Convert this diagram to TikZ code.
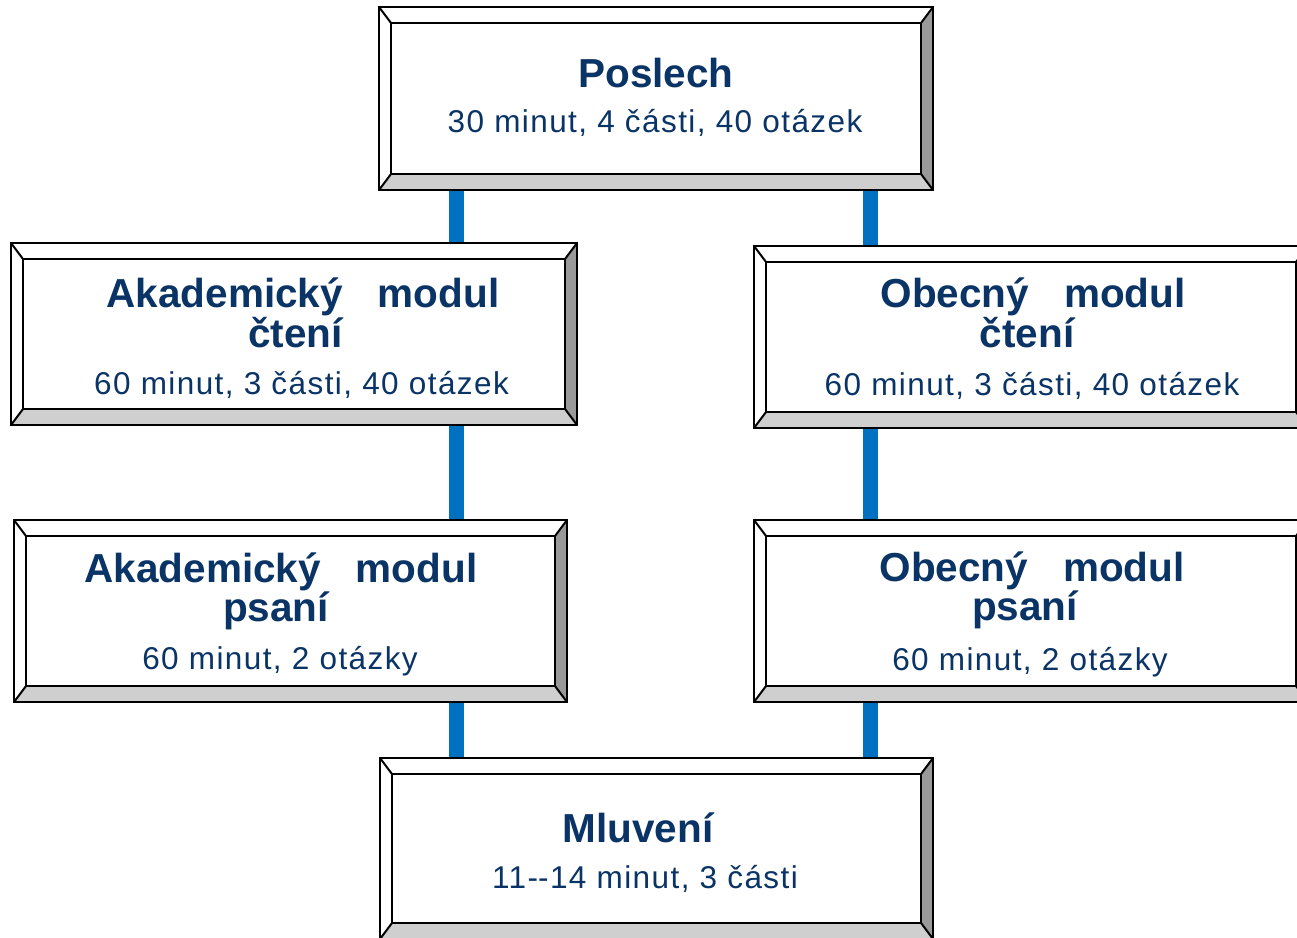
\documentclass[tikz,border=0pt]{standalone}
\usepackage{fontspec}
\setmainfont{Liberation Sans}
\newfontfamily\subf{Liberation Sans}[LetterSpace=4.5]
\definecolor{navy}{HTML}{0A3366}
\definecolor{linkblue}{HTML}{0070C0}
\definecolor{bevR}{HTML}{999999}
\definecolor{bevB}{HTML}{CFCFCF}
\tikzset{
  ttl/.style={anchor=base, inner sep=0pt, text=navy, font=\fontsize{40.5}{48}\selectfont\bfseries},
  subt/.style={anchor=base, inner sep=0pt, text=navy, font=\subf\fontsize{31.5}{36}\selectfont},
  conn/.style={line width=15pt, draw=linkblue, shorten <=1pt, shorten >=1pt},
  outline/.style={draw=black, line width=2pt, line join=miter}
}
\newcommand\bevbox[5]{%
  \fill[white] (#2,#3) rectangle (#4,#5);
  \fill[bevR] (#4,#3) -- (#4,#5) -- ({#4-12},{#5-16}) -- ({#4-12},{#3+16}) -- cycle;
  \fill[bevB] (#2,#5) -- (#4,#5) -- ({#4-12},{#5-16}) -- ({#2+12},{#5-16}) -- cycle;
  \draw[outline] (#2,#3) rectangle (#4,#5);
  \draw[outline] ({#2+12},{#3+16}) rectangle ({#4-12},{#5-16});
  \draw[outline] (#2,#3) -- ({#2+12},{#3+16}) (#4,#3) -- ({#4-12},{#3+16})
                 (#2,#5) -- ({#2+12},{#5-16}) (#4,#5) -- ({#4-12},{#5-16});
  \node[inner sep=0pt, minimum width={(#4-#2)*1pt}, minimum height={(#5-#3)*1pt}] (#1) at ({(#2+#4)/2},{(#3+#5)/2}) {};
}
\begin{document}
\begin{tikzpicture}[x=1pt,y=-1pt]
\useasboundingbox (0,0) rectangle (1297,937);
\clip (0,0) rectangle (1297,937);
\fill[white] (0,0) rectangle (1297,937);

\bevbox{poslech}{379}{7}{933}{190}
\bevbox{akcteni}{11}{243}{577}{425}
\bevbox{obcteni}{754}{246}{1308}{428}
\bevbox{akpsani}{14}{520}{567}{702}
\bevbox{obpsani}{754}{520}{1308}{702}
\bevbox{mluveni}{380}{758}{933}{939}

\coordinate (colL) at (456.5,0);
\coordinate (colR) at (870.5,0);
\draw[conn] (poslech.south -| colL) -- (akcteni.north -| colL);
\draw[conn] (akcteni.south -| colL) -- (akpsani.north -| colL);
\draw[conn] (akpsani.south -| colL) -- (mluveni.north -| colL);
\draw[conn] (poslech.south -| colR) -- (obcteni.north -| colR);
\draw[conn] (obcteni.south -| colR) -- (obpsani.north -| colR);
\draw[conn] (obpsani.south -| colR) -- (mluveni.north -| colR);

\node[ttl] (t1) at (656,87) {Poslech};
\node[subt] (s1) at (655,132) {30 minut, 4 části, 40 otázek};

\node[ttl] (t2a) at (303,307) {Akademický\hspace{35pt}modul};
\node[ttl] (t2b) at (295.5,347) {čtení};
\node[subt] (s2) at (301.5,394) {60 minut, 3 části, 40 otázek};

\node[ttl] (t3a) at (1033,307) {Obecný\hspace{35pt}modul};
\node[ttl] (t3b) at (1027,347) {čtení};
\node[subt] (s3) at (1032,395) {60 minut, 3 části, 40 otázek};

\node[ttl] (t4a) at (281,582) {Akademický\hspace{35pt}modul};
\node[ttl] (t4b) at (276,621) {psaní};
\node[subt] (s4) at (280,669) {60 minut, 2 otázky};

\node[ttl] (t5a) at (1032,581) {Obecný\hspace{35pt}modul};
\node[ttl] (t5b) at (1025,620) {psaní};
\node[subt] (s5) at (1030,670) {60 minut, 2 otázky};

\node[ttl] (t6) at (638,842) {Mluvení};
\node[subt] (s6) at (645,888) {11-\kern0pt-14 minut, 3 části};
\end{tikzpicture}
\end{document}
